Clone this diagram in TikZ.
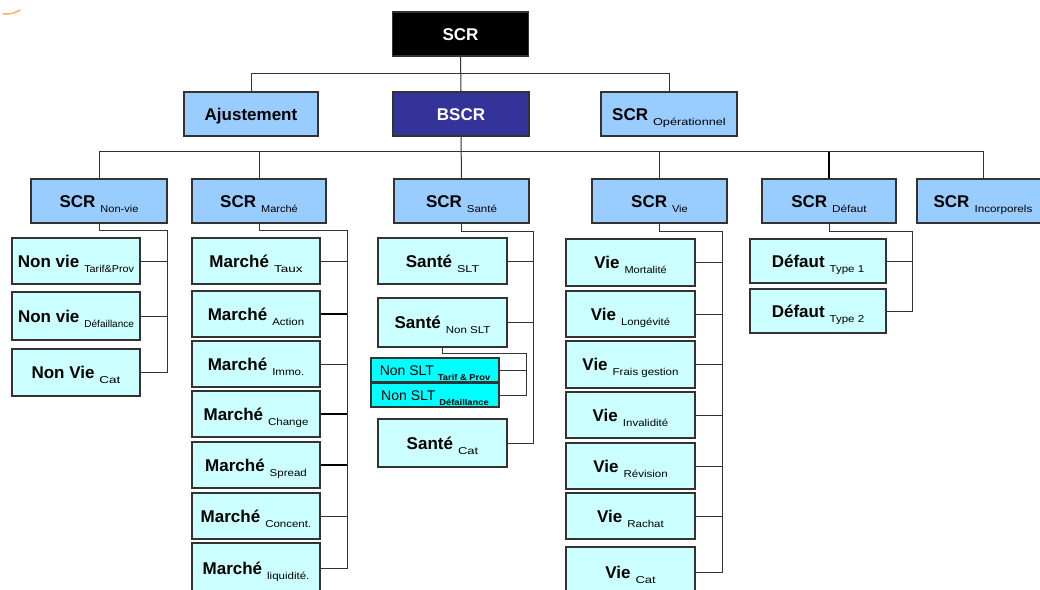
\documentclass[tikz,border=0pt]{standalone}
\usepackage{fontspec}
\usepackage{graphicx}
\setmainfont{Liberation Sans}
\definecolor{lvlblue}{HTML}{99CCFF}
\definecolor{leafcyan}{HTML}{CCFFFF}
\definecolor{aquabox}{HTML}{00FFFF}
\definecolor{navybox}{HTML}{333399}
\definecolor{edge}{HTML}{333333}
\newcommand\lbl[3][1.15]{\raisebox{-6pt}[0pt][0pt]{\makebox[0pt]{\fontsize{17}{17}\selectfont\bfseries #2\hspace{5pt}\raisebox{-5pt}{\scalebox{#1}[1]{\mdseries\fontsize{10}{10}\selectfont #3}}}}}
\newcommand\slbl[3][1.1]{\raisebox{-5pt}[0pt][0pt]{\makebox[0pt]{\fontsize{14}{14}\selectfont #2\hspace{4pt}\raisebox{-5pt}{\scalebox{#1}[1]{\bfseries\fontsize{8.5}{8.5}\selectfont #3}}}}}
\newcommand\one[1]{\raisebox{-6pt}[0pt][0pt]{\makebox[0pt]{\fontsize{17}{17}\selectfont\bfseries #1}}}
\tikzset{
  box/.style={draw=edge, line width=1.4pt, inner sep=0pt, minimum height=44pt},
  lvl/.style={box, fill=lvlblue},
  leaf/.style={box, fill=leafcyan, minimum width=128pt, minimum height=46pt},
  nslt/.style={box, fill=aquabox, minimum width=128pt, minimum height=24pt},
  conn/.style={draw=edge, line width=1pt},
  thick conn/.style={draw=black, line width=1.8pt}
}
\begin{document}
\begin{tikzpicture}[x=1pt, y=-1pt]
\useasboundingbox (0,0) rectangle (1040,589);
\clip (0,0) rectangle (1040,589);
\fill[white] (0,0) rectangle (1040,589);
\draw[orange!60, line width=1.5pt, line cap=round] (3,14) .. controls (12,14) .. (20,10);

% top levels
\node[box, fill=black, text=white, minimum width=136pt] (scr) at (460.5,34) {\one{SCR}};
\node[lvl, minimum width=134pt] (ajust) at (251,114) {\one{Ajustement}};
\node[box, fill=navybox, text=white, minimum width=136pt] (bscr) at (461,114) {\one{BSCR}};
\node[lvl, minimum width=136pt] (oper) at (669,114) {\lbl[1.27]{SCR}{Opérationnel}};

% level 2
\node[lvl, minimum width=136pt] (nonvie) at (99,201) {\lbl[1.1]{SCR}{Non-vie}};
\node[lvl, minimum width=134pt] (marche) at (259,201) {\lbl[1.1]{SCR}{Marché}};
\node[lvl, minimum width=135pt] (sante) at (461.5,201) {\lbl{SCR}{Santé}};
\node[lvl, minimum width=135pt] (vie) at (659.5,201) {\lbl[1.1]{SCR}{Vie}};
\node[lvl, minimum width=134pt] (defaut) at (829,201) {\lbl[1.17]{SCR}{Défaut}};
\node[lvl, minimum width=132pt] (incorp) at (983,201) {\lbl[1.17]{SCR}{Incorporels}};

% non-vie children
\node[leaf] (nv1) at (76,261) {\lbl[1.08]{Non vie}{Tarif\&Prov}};
\node[leaf, minimum height=48pt] (nv2) at (76,316) {\lbl[1.0]{Non vie}{Défaillance}};
\node[leaf, minimum height=47pt] (nv3) at (76,372.5) {\lbl[1.35]{Non Vie}{Cat}};

% marche children
\node[leaf] (ma1) at (256,261) {\lbl[1.35]{Marché}{Taux}};
\node[leaf] (ma2) at (256,314) {\lbl{Marché}{Action}};
\node[leaf] (ma3) at (256,364) {\lbl{Marché}{Immo.}};
\node[leaf] (ma4) at (256,414) {\lbl{Marché}{Change}};
\node[leaf] (ma5) at (256,465) {\lbl{Marché}{Spread}};
\node[leaf] (ma6) at (256,516) {\lbl{Marché}{Concent.}};
\node[leaf, minimum height=50pt] (ma7) at (256,568) {\lbl{Marché}{liquidité.}};

% sante children
\node[leaf, minimum width=129pt] (sa1) at (442.5,261) {\lbl[1.25]{Santé}{SLT}};
\node[leaf, minimum width=129pt, minimum height=49pt] (sa2) at (442.5,322.5) {\lbl{Santé}{Non SLT}};
\node[nslt] (ns1) at (435,370) {\slbl{Non SLT}{Tarif \& Prov}};
\node[nslt] (ns2) at (435,395) {\slbl{Non SLT}{Défaillance}};
\node[leaf, minimum width=129pt, minimum height=48pt] (sa3) at (442.5,443) {\lbl[1.3]{Santé}{Cat}};

% vie children
\node[leaf, minimum width=129pt, minimum height=47pt] (vi1) at (630.5,262.5) {\lbl[1.1]{Vie}{Mortalité}};
\node[leaf, minimum width=129pt] (vi2) at (630.5,314) {\lbl[1.13]{Vie}{Longévité}};
\node[leaf, minimum width=129pt, minimum height=47pt] (vi3) at (630.5,364.5) {\lbl{Vie}{Frais gestion}};
\node[leaf, minimum width=129pt] (vi4) at (630.5,415) {\lbl{Vie}{Invalidité}};
\node[leaf, minimum width=129pt] (vi5) at (630.5,466) {\lbl{Vie}{Révision}};
\node[leaf, minimum width=129pt] (vi6) at (630.5,516) {\lbl{Vie}{Rachat}};
\node[leaf, minimum width=129pt, minimum height=50pt] (vi7) at (630.5,572) {\lbl[1.3]{Vie}{Cat}};

% defaut children
\node[leaf, minimum width=136pt, minimum height=44pt] (de1) at (818,261) {\lbl{Défaut}{Type 1}};
\node[leaf, minimum width=136pt, minimum height=44pt] (de2) at (818,311) {\lbl{Défaut}{Type 2}};

% connectors top
\draw[conn] (scr.south) -- (bscr.north);
\draw[conn] (ajust.north) -- ++(0,-18) -| (oper.north);
\draw[conn] (bscr.south) -- (sante.north);
\coordinate (bus2) at (0,152);
\draw[conn] (nonvie.north) -- ++(0,-27) -| (incorp.north);
\draw[conn] (marche.north) -- (marche.north |- bus2);
\draw[conn] (vie.north) -- (vie.north |- bus2);
\draw[thick conn] (defaut.north) -- (defaut.north |- bus2);

% non-vie
\coordinate (nvx) at (167,0);
\draw[conn] (nonvie.south) -- ++(0,7) -| (nvx |- nv3.east) -- (nv3.east);
\foreach \i in {1,2} \draw[conn] (nv\i.east) -- (nvx |- nv\i.east);

% marche
\coordinate (max) at (347,0);
\draw[conn] (marche.south) -- ++(0,7) -| (max |- ma7.east) -- (ma7.east);
\foreach \i in {1,3,6} \draw[conn] (ma\i.east) -- (max |- ma\i.east);
\foreach \i in {2,4,5} \draw[thick conn] (ma\i.east) -- (max |- ma\i.east);

% sante
\coordinate (sax) at (533,0);
\draw[conn] (sante.south) -- ++(0,8) -| (sax |- sa3.east) -- (sa3.east);
\foreach \i in {1,2} \draw[conn] (sa\i.east) -- (sax |- sa\i.east);
\coordinate (nsx) at (526,0);
\draw[conn] (sa2.south) -- ++(0,6) -| (nsx |- ns2.east) -- (ns2.east);
\draw[conn] (ns1.east) -- (nsx |- ns1.east);

% vie
\coordinate (vix) at (722,0);
\draw[conn] (vie.south) -- ++(0,8) -| (vix |- vi7.east) -- (vi7.east);
\foreach \i in {1,...,6} \draw[conn] (vi\i.east) -- (vix |- vi\i.east);

% defaut
\coordinate (dex) at (912,0);
\draw[conn] (defaut.south) -- ++(0,8) -| (dex |- de2.east) -- (de2.east);
\draw[conn] (de1.east) -- (dex |- de1.east);
\end{tikzpicture}
\end{document}
